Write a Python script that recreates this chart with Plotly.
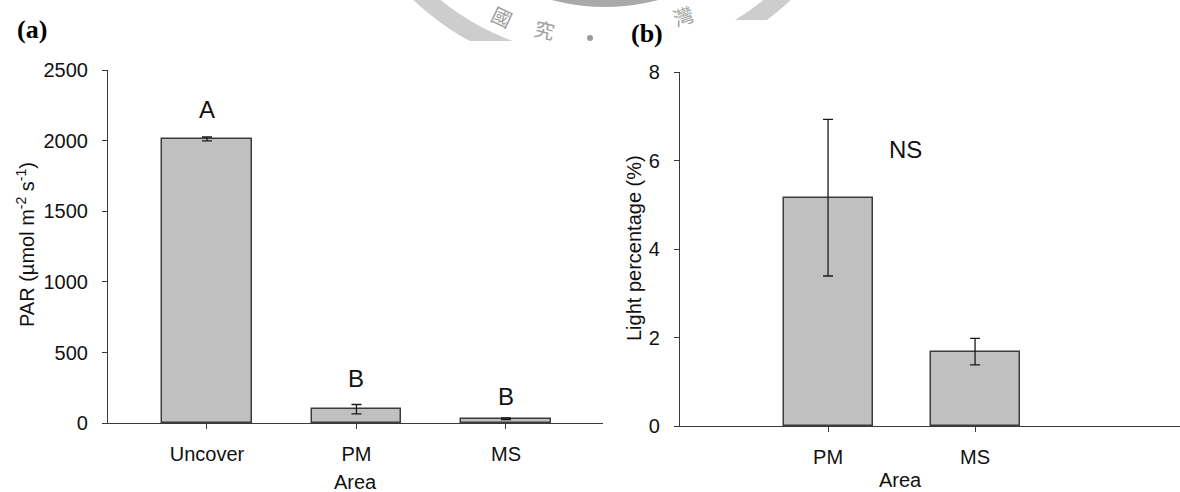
import plotly.graph_objects as go

W, H = 1180, 492


def px(x):
    return x / W


def py(y):
    return 1 - y / H


# ---------------- data ----------------
area_a = ["Uncover", "PM", "MS"]
par_mean = [2012, 100, 33]
par_se = [14, 33, 6]
par_letters = ["A", "B", "B"]

area_b = ["PM", "MS"]
light_mean = [5.16, 1.68]
light_se = [1.77, 0.30]
light_letter = "NS"

par_ticks = [0, 500, 1000, 1500, 2000, 2500]
light_ticks = [0, 2, 4, 6, 8]

# ---------------- styles ----------------
FONT = "Arial, Liberation Sans, sans-serif"
TXT = "#111111"
LINE = "#3a3a3a"
bar_marker = dict(color="#c0c0c0", line=dict(color="#3c3c3c", width=1.5))
err_style = dict(type="data", color="#1a1a1a", thickness=1.3, width=5)

fig = go.Figure()
fig.add_trace(go.Bar(x=area_a, y=par_mean, error_y=dict(array=par_se, **err_style),
                     marker=bar_marker, width=0.6, xaxis="x", yaxis="y",
                     showlegend=False, hoverinfo="skip"))
fig.add_trace(go.Bar(x=area_b, y=light_mean, error_y=dict(array=light_se, **err_style),
                     marker=bar_marker, width=0.605, xaxis="x2", yaxis="y2",
                     showlegend=False, hoverinfo="skip"))

axis_common = dict(showline=True, linecolor=LINE, linewidth=1.2, ticks="outside",
                   ticklen=5, tickwidth=1.2, tickcolor=LINE, showgrid=False,
                   zeroline=False, tickfont=dict(family=FONT, size=20, color=TXT),
                   fixedrange=True, automargin=False)

fig.update_layout(
    template="none",
    width=W, height=H, autosize=False,
    margin=dict(l=0, r=0, t=0, b=0, pad=0),
    paper_bgcolor="white", plot_bgcolor="rgba(0,0,0,0)",
    bargap=0,
    xaxis=dict(domain=[px(108), px(603)], range=[-0.662, 2.649], anchor="y",
               type="category", ticklabelstandoff=8, **axis_common),
    yaxis=dict(domain=[py(423.3), py(70)], range=[0, 2500], tickvals=par_ticks,
               anchor="x", ticklabelstandoff=10, **axis_common),
    xaxis2=dict(domain=[px(680), 1.0], range=[-1.007, 2.394], anchor="y2",
                type="category", ticklabelstandoff=8, **axis_common),
    yaxis2=dict(domain=[py(426), py(72)], range=[0, 8], tickvals=light_ticks,
                anchor="x2", ticklabelstandoff=10, **axis_common),
)

# ---------------- background watermark (seal fragment) ----------------
def circle(cx, cy, r, fill):
    return dict(type="circle", xref="paper", yref="paper",
                x0=px(cx - r), x1=px(cx + r), y0=py(cy + r), y1=py(cy - r),
                fillcolor=fill, line=dict(width=0), layer="below")


shapes = [
    circle(602, -200, 275, "#cdcdcd"),
    circle(602, -200, 257, "white"),
    circle(605, -200, 207, "#a9a9a9"),
    circle(590, 38, 3, "#9a9a9a"),
    dict(type="rect", xref="paper", yref="paper", x0=0, x1=px(620), y0=0, y1=py(41),
         fillcolor="white", line=dict(width=0), layer="below"),
    dict(type="rect", xref="paper", yref="paper", x0=px(620), x1=1, y0=0, y1=py(20),
         fillcolor="white", line=dict(width=0), layer="below"),
]
fig.update_layout(shapes=shapes)

annotations = []
for ch, (x, y, ang) in zip(["國", "究", "灣"], [(502, 17, 25), (545, 29, 14), (683, 15, -19)]):
    annotations.append(dict(text=ch, xref="paper", yref="paper", x=px(x), y=py(y),
                            showarrow=False, textangle=ang,
                            font=dict(family="Noto Sans CJK TC", size=20, color="#9e9e9e"),
                            xanchor="center", yanchor="middle"))

# ---------------- significance letters ----------------
shifts = [27, 26, 21]
for cat, m, s, lab, sh in zip(area_a, par_mean, par_se, par_letters, shifts):
    annotations.append(dict(text=lab, xref="x", yref="y", x=cat, y=m + s, yshift=sh,
                            showarrow=False, xanchor="center", yanchor="middle",
                            font=dict(family=FONT, size=24, color=TXT)))
annotations.append(dict(text=light_letter, xref="x2", yref="y2", x=0.53, y=6.24,
                        showarrow=False, xanchor="center", yanchor="middle",
                        font=dict(family=FONT, size=24, color=TXT)))

# ---------------- axis titles ----------------
annotations += [
    dict(text="Area", xref="paper", yref="paper", x=px(355.5), y=py(482),
         showarrow=False, xanchor="center", yanchor="middle",
         font=dict(family=FONT, size=20, color=TXT)),
    dict(text="Area", xref="paper", yref="paper", x=px(900), y=py(480),
         showarrow=False, xanchor="center", yanchor="middle",
         font=dict(family=FONT, size=20, color=TXT)),
    dict(text="PAR (µmol m<sup>-2</sup> s<sup>-1</sup>)", xref="paper", yref="paper",
         x=px(25), y=py(245), textangle=-90, showarrow=False,
         xanchor="center", yanchor="middle",
         font=dict(family=FONT, size=20, color=TXT)),
    dict(text="Light percentage (%)", xref="paper", yref="paper",
         x=px(634), y=py(248), textangle=-90, showarrow=False,
         xanchor="center", yanchor="middle",
         font=dict(family=FONT, size=20, color=TXT)),
    dict(text="<b>(a)</b>", xref="paper", yref="paper", x=px(32), y=py(29),
         showarrow=False, xanchor="center", yanchor="middle",
         font=dict(family="Liberation Serif, Times New Roman, serif", size=26, color="#000")),
    dict(text="<b>(b)</b>", xref="paper", yref="paper", x=px(647), y=py(33),
         showarrow=False, xanchor="center", yanchor="middle",
         font=dict(family="Liberation Serif, Times New Roman, serif", size=26, color="#000")),
]
fig.update_layout(annotations=annotations)

fig.write_html("out.html")
